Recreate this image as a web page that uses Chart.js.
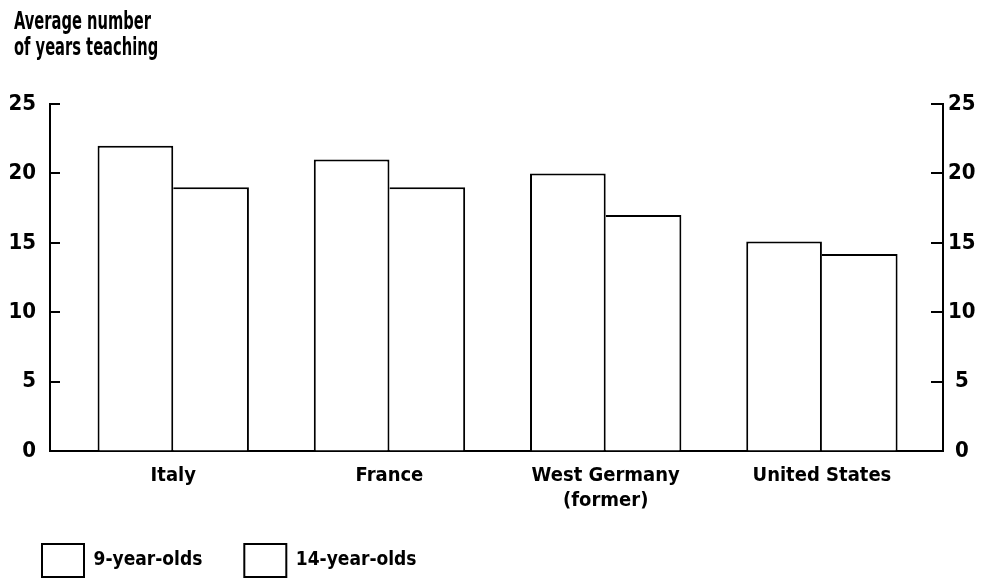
<!DOCTYPE html>
<html>
<head>
<meta charset="utf-8">
<script src="https://cdn.jsdelivr.net/npm/chart.js@4.4.0/dist/chart.umd.min.js"></script>
<style>
  html, body { margin: 0; padding: 0; background: #fff; }
  #wrap { position: relative; width: 981px; height: 578px; }
  #title {
    position: absolute; left: 14px; top: 8px;
    font: bold 24px/26px 'Liberation Sans Narrow', 'DejaVu Sans Condensed', sans-serif;
    color: #000;
    transform: scaleX(0.68); transform-origin: 0 0;
    white-space: nowrap;
  }
</style>
</head>
<body>
<div id="wrap">
  <canvas id="c" width="981" height="578"></canvas>
  <div id="title">Average number<br>of years teaching</div>
</div>
<script>
  // ── Data ───────────────────────────────────────────────────────────────────
  const COUNTRIES = ['Italy', 'France', ['West Germany', '(former)'], 'United States'];
  const AGE9      = [22, 21, 20, 15.1];
  const AGE14     = [19, 19, 17, 14.2];
  const Y_TICKS   = [0, 5, 10, 15, 20, 25];

  const FONT = "'Liberation Sans Narrow', 'DejaVu Sans Condensed', sans-serif";

  const toPoints = vals => vals.map((v, i) => ({ x: i, y: v }));

  // ticks pointing into the plot, like the printed original
  const inwardTicks = {
    id: 'inwardTicks',
    afterDraw(chart) {
      const ctx = chart.ctx;
      ctx.save();
      ctx.strokeStyle = '#000';
      ctx.lineWidth = 2;
      [['y', 10], ['y2', -12]].forEach(([id, len]) => {
        const s  = chart.scales[id];
        const x0 = id === 'y' ? s.right : s.left;
        s.ticks.forEach(t => {
          const py = Math.round(s.getPixelForValue(t.value));
          ctx.beginPath();
          ctx.moveTo(x0, py);
          ctx.lineTo(x0 + len, py);
          ctx.stroke();
        });
      });
      ctx.restore();
    }
  };

  const yAxis = (position, width, pad, align) => ({
    type: 'linear',
    position,
    min: 0, max: 25,
    afterBuildTicks: s => { s.ticks = Y_TICKS.map(v => ({ value: v })); },
    afterFit: s => { s.width = width; },
    grid: { drawOnChartArea: false, drawTicks: false },
    border: { display: true, color: '#000', width: 2 },
    ticks: {
      padding: pad,
      crossAlign: align,
      color: '#000',
      font: { family: FONT, size: 22, weight: 'bold' },
    },
  });

  new Chart(document.getElementById('c'), {
    type: 'bar',
    data: {
      datasets: [
        {
          label: '9-year-olds',
          data: toPoints(AGE9),
          backgroundColor: '#fff',
          borderColor: '#000',
          borderWidth: { top: 2, left: 2, right: 2, bottom: 0 },
          borderSkipped: 'bottom',
        },
        {
          label: '14-year-olds',
          data: toPoints(AGE14),
          backgroundColor: '#fff',
          borderColor: '#000',
          borderWidth: { top: 2, left: 0, right: 2, bottom: 0 },
          borderSkipped: 'bottom',
        },
      ],
    },
    options: {
      responsive: false,
      animation: false,
      layout: { padding: { top: 104, bottom: -9, left: 0, right: 0 } },
      datasets: { bar: { categoryPercentage: 0.7, barPercentage: 1 } },
      plugins: {
        tooltip: { enabled: false },
        legend: {
          position: 'bottom',
          align: 'start',
          labels: {
            boxWidth: 42,
            boxHeight: 33,
            padding: 42,
            color: '#000',
            font: { family: FONT, size: 19, weight: 'bold' },
            generateLabels(chart) {
              const items = Chart.defaults.plugins.legend.labels.generateLabels(chart);
              items.forEach(it => { it.lineWidth = 2; it.fillStyle = '#fff'; it.strokeStyle = '#000'; });
              return items;
            },
          },
        },
      },
      scales: {
        x: {
          type: 'linear',
          offset: false,
          min: -0.57, max: 3.56,
          afterBuildTicks: s => { s.ticks = COUNTRIES.map((c, i) => ({ value: i })); },
          afterFit: s => {
            s.height = 51;
            s._computeLabelArea = () => undefined; // let the 2-line label spill below the axis box
          },
          grid: { offset: false, drawOnChartArea: false, drawTicks: false },
          border: { display: true, color: '#000', width: 2 },
          ticks: {
            autoSkip: false,
            maxRotation: 0,
            padding: 12,
            color: '#000',
            font: { family: FONT, size: 20, weight: 'bold', lineHeight: 1.25 },
            callback: v => COUNTRIES[v],
          },
        },
        y:  yAxis('left', 50, 14, 'near'),
        y2: yAxis('right', 38, 5, 'center'),
      },
    },
    plugins: [inwardTicks],
  });
</script>
</body>
</html>
